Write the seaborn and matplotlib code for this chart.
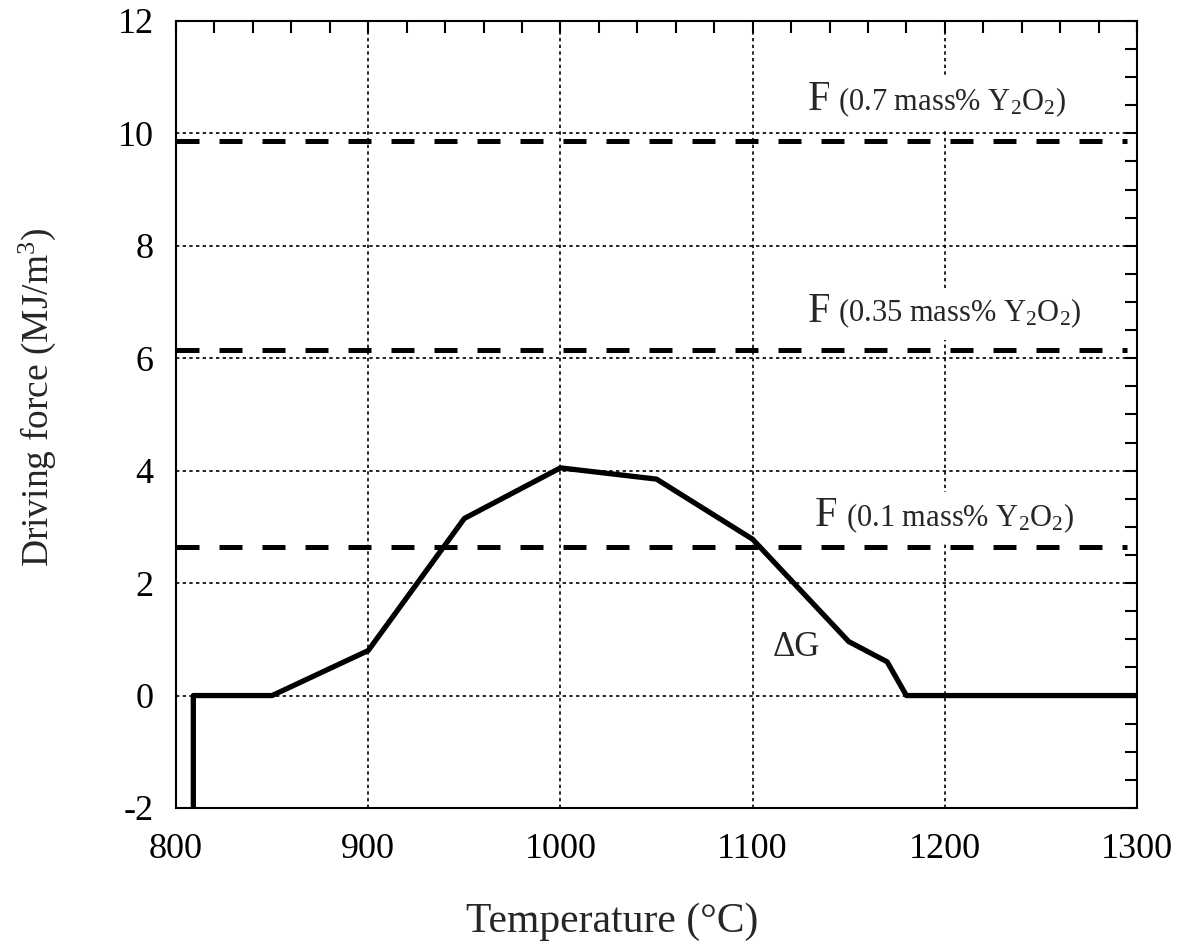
import matplotlib
matplotlib.use("Agg")
import matplotlib.pyplot as plt
import seaborn as sns
import pandas as pd
from matplotlib.ticker import MultipleLocator

# ---- data ----
temperature = [809, 809, 850, 900, 950, 1000, 1050, 1100, 1150, 1170, 1180, 1300]
delta_g = [-2.3, 0.0, 0.0, 0.8, 3.15, 4.05, 3.85, 2.78, 0.96, 0.6, 0.0, 0.0]
f_concentrations = ["0.7", "0.35", "0.1"]
f_values = [9.86, 6.15, 2.65]
x_ticks = [800, 900, 1000, 1100, 1200, 1300]
y_ticks = [-2, 0, 2, 4, 6, 8, 10, 12]

sns.set_style("white")
plt.rcParams["font.family"] = ["Liberation Serif", "DejaVu Serif"]
plt.rcParams["mathtext.fontset"] = "custom"
plt.rcParams["mathtext.rm"] = "Liberation Serif"
plt.rcParams["mathtext.it"] = "Liberation Serif:italic"
plt.rcParams["axes.unicode_minus"] = False

fig = plt.figure(figsize=(11.87, 9.44), dpi=100)
ax = fig.add_axes([0.1483, 0.1441, 0.9579 - 0.1483, 0.9778 - 0.1441])

df = pd.DataFrame({"T": temperature, "G": delta_g})
sns.lineplot(data=df, x="T", y="G", sort=False, estimator=None,
             color="black", linewidth=3.8, ax=ax, zorder=4)

for v in f_values:
    ax.axhline(v, xmin=0.0, xmax=0.99, color="black", linewidth=3.6,
               dashes=(4.6, 4.0), zorder=3)

ax.set_xlim(800, 1300)
ax.set_ylim(-2, 12)
ax.set_xticks(x_ticks)
ax.set_yticks(y_ticks)
ax.xaxis.set_minor_locator(MultipleLocator(20))
ax.yaxis.set_minor_locator(MultipleLocator(0.5))

ax.grid(True, which="major", color="black", linewidth=1.2,
        linestyle=(0, (2, 2)), zorder=1)
ax.set_axisbelow(True)

ax.tick_params(which="both", direction="in", top=True, right=True,
               length=8.5, width=1.5, colors="black")
ax.tick_params(which="major", labelsize=26)
ax.tick_params(axis="x", which="major", pad=18)
ax.tick_params(axis="y", which="major", pad=16)
for s in ax.spines.values():
    s.set_visible(True)
    s.set_color("black")
    s.set_linewidth(1.5)

ax.set_xlabel("Temperature (°C)", fontsize=30, labelpad=26)
ax.xaxis.label.set_x(0.454)
ax.set_ylabel("Driving force (MJ/m$^\\mathrm{3}$)", fontsize=27, labelpad=43)
ax.yaxis.label.set_y(0.522)

# annotations
label_pos = [(1128.5, 10.41), (1128.5, 6.65), (1132.5, 3.01)]
box = dict(boxstyle="square,pad=0.3", fc="white", ec="none")
for conc, (tx, ty) in zip(f_concentrations, label_pos):
    ax.text(tx, ty, "F", fontsize=30, ha="left", va="baseline",
            bbox=box, zorder=2)
    ax.annotate("(" + conc + " mass% Y$_\\mathrm{2}$O$_\\mathrm{2}$)",
                xy=(tx, ty), xytext=(22, 0), textcoords="offset points",
                fontsize=22, ha="left", va="baseline", bbox=box, zorder=2)

ax.text(1110.6, 0.71, "ΔG", fontsize=25, ha="left", va="baseline", zorder=5)

fig.savefig("out.png", dpi=100)
